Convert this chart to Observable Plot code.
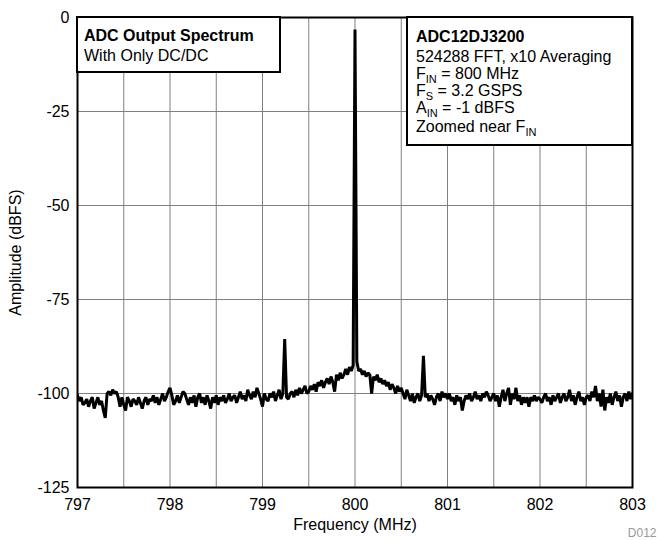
<!DOCTYPE html>
<html><head><meta charset="utf-8">
<script src="https://cdn.jsdelivr.net/npm/d3@7"></script>
<script src="https://cdn.jsdelivr.net/npm/@observablehq/plot@0.6"></script>
<style>body{margin:0;background:#fff;font-family:Arial,"Liberation Sans",sans-serif}</style>
</head><body><div id="chart"></div>
<script>
// FFT bin grid (MHz)
const freqStart = 797;
const freqStep = 0.02;
// Amplitude (dBFS) per bin
const amplitude = [
  -100.5,-102,-101,-103,-102.5,-101.5,-103.5,-102,-101,-104,-102.5,-101,-103,-102,-104.5,-106.5,-100,-99.5,-100.5,-99,-100,-99.5,-101,-103.5,-101,
  -103,-104.5,-101,-102,-103.5,-101.5,-102,-103,-101,-102.5,-104,-102,-101,-103,-101.5,-102,-100.5,-102.5,-101,-103,-101.5,-100,-102,-101,-99.5,
  -98.5,-100.5,-103,-102,-100.5,-102.5,-101,-99.5,-100,-101.5,-103,-101,-102.5,-100.5,-103.5,-101,-100,-102.5,-101,-103,-100.5,-102,-104,-101,-102.5,
  -100.5,-103,-101,-102,-100.5,-102.5,-101.5,-100,-102,-101,-100.5,-102.5,-101,-99.5,-101.5,-100.5,-102,-99,-100.5,-101.5,-99.5,-101,-98.5,-100,-101.5,
  -103.5,-100,-101.5,-102,-100,-101,-99.5,-102,-100.5,-99,-101.5,-100,-85.5,-101,-101.5,-100,-99.5,-101,-99,-100.5,-98.5,-100,-99,-98,-100,
  -99.5,-98,-99,-97.5,-99.5,-97,-98,-96.5,-98.5,-97,-96,-97.5,-95.5,-97,-99.5,-95,-96.5,-94.5,-96,-95,-93.5,-95,-93,-94,-92.5,
  -3.2,-91.5,-94,-93.5,-95,-94,-95.5,-94.5,-95,-100,-95.5,-96.5,-95,-97,-96,-97.5,-96.5,-98,-97,-99,-97.5,-98.5,-100,-98,-99.5,
  -98.5,-100,-101.5,-99,-100.5,-102,-100,-102.5,-101,-100,-102,-100.5,-90,-101,-100,-102,-100.5,-101.5,-103,-101,-100,-102,-99.5,-101,-100,
  -101.5,-100,-102,-101,-103,-100.5,-102,-101,-104.5,-102,-100.5,-101.5,-100,-102,-101,-99.5,-101.5,-100.5,-102,-100,-101,-99.5,-100.5,-102,-101,
  -100,-102,-100.5,-103.5,-101,-99,-102,-100,-98.5,-103,-100,-101.5,-98.5,-102,-100.5,-103,-101,-102.5,-101,-103.5,-101,-102,-100.5,-102,-101,
  -101.5,-102.5,-101,-100,-102,-101,-103,-100.5,-102,-101,-100,-102.5,-101,-100,-102,-101,-99,-102,-100.5,-103,-101,-99.5,-102,-101,-103,
  -101,-100.5,-102,-99.5,-101,-98,-102,-100,-103.5,-99,-104.5,-101,-102.5,-100,-103,-101,-99.5,-102,-100.5,-103.5,-101,-100,-102,-99.5,-101.5,
  -100
];
const xTicks = [797, 798, 799, 800, 801, 802, 803];
const xGrid = [797.5, 798, 798.5, 799, 799.5, 800, 800.5, 801, 801.5, 802, 802.5];
const yTicks = [0, -25, -50, -75, -100, -125];
const yGrid = [-25, -50, -75, -100];
const xLabel = "Frequency (MHz)";
const yLabel = "Amplitude (dBFS)";
const figureId = "D012";
const leftBoxLines = ["**ADC Output Spectrum", "With Only DC/DC"];
const rightBoxLines = ["**ADC12DJ3200", "524288 FFT, x10 Averaging", "F_{IN} = 800 MHz", "F_{S} = 3.2 GSPS", "A_{IN} = -1 dBFS", "Zoomed near F_{IN}"];

const data = amplitude.map((a, i) => ({f: +(freqStart + i * freqStep).toFixed(2), a}));

const chart = Plot.plot({
  width: 657, height: 540,
  marginLeft: 77, marginRight: 25, marginTop: 17, marginBottom: 53,
  style: {fontFamily: "Arial, 'Liberation Sans', sans-serif", fontSize: "16px", color: "#000", background: "#fff", overflow: "visible"},
  x: {domain: [797, 803]},
  y: {domain: [-125, 0]},
  marks: [
    Plot.gridX(xGrid, {stroke: "#808080", strokeOpacity: 1, strokeWidth: 1}),
    Plot.gridY(yGrid, {stroke: "#808080", strokeOpacity: 1, strokeWidth: 1}),
    Plot.line(data, {x: "f", y: "a", stroke: "#000", strokeWidth: 3, strokeLinejoin: "miter", clip: true}),
    Plot.frame({stroke: "#000", strokeWidth: 2}),
    Plot.axisX(xTicks, {tickSize: 0, tickPadding: 11, tickFormat: d => String(d), label: xLabel, labelAnchor: "center", labelArrow: false, labelOffset: 42, fontSize: 16}),
    Plot.axisY(yTicks, {tickSize: 0, tickPadding: 8, tickFormat: d => String(d), label: yLabel, labelAnchor: "center", labelArrow: false, labelOffset: 68, fontSize: 16}),
    Plot.text([figureId], {frameAnchor: "bottom-right", text: d => d, dx: 24, dy: 49, textAnchor: "end", lineAnchor: "bottom", fill: "#999", fontSize: 12})
  ]
});
document.getElementById("chart").appendChild(chart);

// Annotation boxes
const svg = d3.select(chart.tagName.toLowerCase() === "svg" ? chart : chart.querySelector("svg"));
function addBox(x0, y0, w, h, lines, tx, baselines) {
  const g = svg.append("g").attr("font-family", "Arial, 'Liberation Sans', sans-serif").attr("font-size", 16).attr("text-anchor", "start");
  g.append("rect").attr("x", x0).attr("y", y0).attr("width", w).attr("height", h)
    .attr("fill", "#fff").attr("stroke", "#000").attr("stroke-width", 2);
  lines.forEach((line, i) => {
    const t = g.append("text").attr("x", tx).attr("y", baselines[i]).attr("fill", "#000").attr("text-anchor", "start");
    let s = line;
    if (s.startsWith("**")) { t.attr("font-weight", "bold"); s = s.slice(2); }
    const parts = s.split(/(_\{[^}]*\})/);
    let shifted = false;
    parts.forEach(p => {
      if (!p) return;
      if (p.startsWith("_{")) {
        t.append("tspan").attr("dy", 4).attr("font-size", 11).text(p.slice(2, -1));
        shifted = true;
      } else {
        const sp = t.append("tspan").text(p);
        if (shifted) { sp.attr("dy", -4); shifted = false; }
      }
    });
  });
}
addBox(77, 17, 203, 55, leftBoxLines, 84, [41, 61]);
addBox(407, 17, 225, 128, rightBoxLines, 416, [42, 61.5, 79, 96, 113, 131.5]);
</script>
</body></html>
